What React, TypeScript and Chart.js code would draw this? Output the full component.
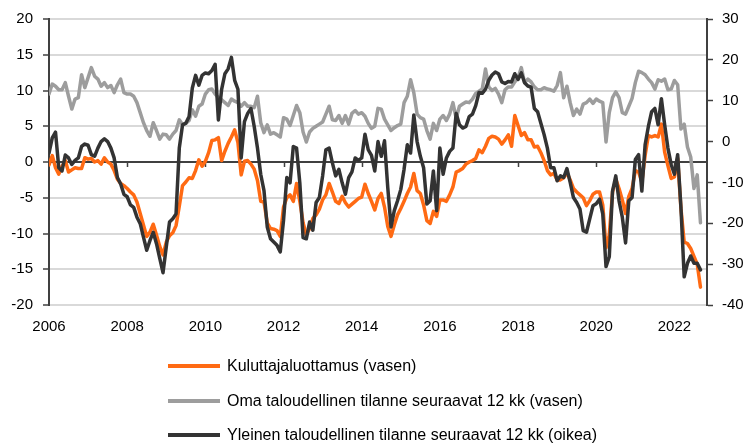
import React, { useEffect, useRef } from 'react';
import { Chart, registerables } from 'chart.js';

Chart.register(...registerables);

// Monthly data, Jan 2006 (index 0) ... Sep 2022 (index 200)
const startYear = 2006;
const yearLabels = [2006, 2008, 2010, 2012, 2014, 2016, 2018, 2020, 2022];
const leftTicks = [-20, -15, -10, -5, 0, 5, 10, 15, 20];
const rightTicks = [-40, -30, -20, -10, 0, 10, 20, 30];

const seriesNames = [
  'Kuluttajaluottamus (vasen)',
  'Oma taloudellinen tilanne seuraavat 12 kk (vasen)',
  'Yleinen taloudellinen tilanne seuraavat 12 kk (oikea)',
];
const seriesColors = ['#ff6a13', '#9d9d9d', '#333333'];

const kuluttajaluottamus = [
  -0.4, 0.9, -0.8, -1.7, -0.6, 0.2, -1.4, -1.1, -0.8, -0.9, -0.9, 0.6,
  0.4, 0.5, 0.0, 0.2, -0.3, 0.6, 0.0, -0.3, -1.2, -2.4, -3.0, -3.3,
  -3.7, -4.2, -4.6, -5.6, -7.2, -8.8, -10.4, -9.8, -8.7, -10.2, -11.8, -13.0,
  -11.2, -10.3, -9.9, -8.9, -6.2, -3.3, -2.8, -2.2, -2.3, -1.2, 0.3, -0.6,
  0.1, 1.3, 3.0, 3.1, 3.4, 0.2, 1.5, 2.6, 3.5, 4.5, 2.7, -1.8,
  0.1, 0.2, -0.3, -1.0, -2.6, -5.5, -5.6, -8.5, -9.3, -9.4, -9.6, -10.4,
  -6.3, -5.0, -4.6, -5.5, -3.0, -5.5, -8.5, -10.2, -9.3, -7.9, -7.4, -6.6,
  -5.3, -4.6, -3.0, -4.2, -5.5, -5.8, -4.8, -5.7, -6.3, -5.9, -5.5, -5.1,
  -4.9, -3.1, -4.4, -5.5, -6.7, -5.1, -4.4, -6.3, -9.0, -10.4, -8.8, -7.4,
  -6.5, -5.5, -4.4, -3.5, -1.6, -4.0, -4.4, -6.0, -8.2, -8.6, -6.9, -7.6,
  -5.3, -5.3, -5.5, -4.6, -3.5, -1.4, -1.2, -0.9, -0.3, 0.0, 0.2, 0.5,
  1.7, 1.3, 2.2, 3.3, 3.6, 3.5, 3.2, 2.5, 3.1, 3.8, 2.2, 6.5,
  5.1, 3.7, 4.1, 3.1, 3.1, 2.1, 2.2, 1.3, 0.2, -1.2, -1.8, -1.6,
  -2.5, -2.5, -2.2, -1.5, -2.5, -3.7, -4.2, -4.6, -5.0, -6.1, -5.4, -4.5,
  -4.2, -4.2, -6.0, -12.0, -10.2, -4.2, -2.4, -3.7, -5.3, -7.2, -4.8, -3.7,
  -1.2, -1.4, -2.8, 0.9, 3.7, 3.5, 3.7, 3.5, 5.3, 1.4, -0.5, -2.3,
  -2.1, 0.5, -6.5, -11.2, -11.4, -12.1, -13.2, -14.3, -17.5,
];

const omaTalous = [
  9.5, 10.9, 10.6, 10.1, 10.1, 11.1, 9.2, 7.4, 8.8, 9.0, 12.2, 10.4,
  11.8, 13.2, 12.0, 11.6, 10.6, 11.1, 10.4, 10.7, 9.7, 10.8, 11.6, 9.7,
  9.5, 9.5, 9.2, 8.3, 6.9, 5.5, 4.4, 3.6, 5.5, 4.4, 3.2, 3.9,
  3.8, 3.2, 3.9, 4.4, 5.9, 5.2, 5.4, 5.8, 7.3, 6.4, 7.8, 8.1,
  9.5, 10.1, 10.2, 9.5, 9.0, 8.7, 8.3, 7.9, 8.8, 8.5, 8.3, 7.8,
  8.3, 7.8, 7.8, 7.6, 9.2, 5.5, 4.1, 5.2, 3.9, 4.1, 3.8, 3.5,
  6.2, 6.0, 5.1, 6.5, 7.9, 6.9, 4.2, 2.8, 4.2, 4.7, 5.0, 5.3,
  5.6, 6.7, 7.8, 5.9, 5.8, 6.5, 5.4, 6.5, 5.3, 6.8, 7.2, 6.7,
  6.9, 6.4, 5.4, 4.7, 5.0, 7.5, 7.4, 6.0, 5.2, 4.4, 4.8, 5.1,
  5.3, 8.3, 9.2, 11.5, 9.7, 6.7, 6.2, 6.0, 4.4, 3.2, 5.4, 4.4,
  6.0, 6.5, 5.8, 6.7, 8.3, 6.1, 7.8, 8.1, 8.4, 8.3, 8.8, 9.6,
  9.9, 10.2, 13.0, 10.5, 10.0, 10.3, 9.5, 8.3, 10.1, 10.5, 10.5, 11.2,
  11.8, 13.2, 11.1, 11.6, 11.2, 10.5, 10.1, 10.1, 10.4, 10.2, 10.1, 9.9,
  10.7, 12.5, 9.0, 10.6, 8.3, 6.5, 7.4, 6.7, 8.1, 8.3, 8.8, 8.2,
  8.8, 8.5, 8.3, 2.8, 6.9, 9.0, 9.8, 9.0, 6.9, 6.7, 7.8, 8.9,
  11.1, 12.7, 12.5, 12.2, 11.6, 11.1, 10.2, 11.5, 11.3, 11.6, 10.1, 10.2,
  11.4, 10.8, 4.6, 5.3, 2.1, 0.7, -3.7, -1.8, -8.5,
];

const yleinenTalous = [
  -2.8, 0.9, 2.3, -6.4, -7.2, -3.3, -4.0, -5.6, -4.6, -4.0, -1.2, -0.6,
  -0.9, -3.2, -3.6, -1.6, 0.0, 0.7, 0.0, -1.6, -4.0, -8.8, -10.4, -12.9,
  -13.5, -15.5, -16.1, -18.5, -20.1, -23.4, -26.6, -24.2, -22.2, -25.0, -28.6, -32.1,
  -25.8, -19.7, -18.9, -17.7, -1.6, 4.1, 4.5, 6.1, 13.1, 16.2, 13.8, 16.2,
  16.8, 16.6, 17.4, 18.9, 5.3, 12.8, 16.6, 17.8, 20.6, 15.0, 12.8, -4.0,
  4.9, 6.9, 8.1, 3.7, -1.6, -8.0, -12.0, -20.9, -23.8, -24.6, -25.4, -27.0,
  -19.3, -8.8, -10.1, -1.2, -1.6, -10.1, -23.5, -23.8, -19.7, -21.7, -14.9, -13.7,
  -8.4, -2.0, -1.6, -5.2, -8.4, -6.8, -10.1, -12.9, -8.8, -7.4, -4.0, -4.6,
  -4.0, 1.8, -2.0, -3.4, -7.2, 0.0, -3.6, 0.2, -11.3, -20.9, -16.9, -14.5,
  -11.7, -6.8, -0.8, -2.8, 6.5, 0.0, -3.6, -6.4, -15.3, -14.5, -7.2, -16.9,
  -1.6, -8.0, -4.0, -2.4, -1.6, 6.9, 4.1, 3.3, 3.7, 6.1, 6.7, 8.8,
  12.0, 11.8, 12.8, 15.0, 16.3, 17.0, 16.6, 14.6, 14.2, 14.7, 14.6, 16.6,
  15.2, 16.8, 14.4, 13.6, 13.3, 8.1, 7.3, 4.5, 1.7, -1.6, -6.4, -6.4,
  -9.6, -8.4, -8.8, -6.6, -10.0, -13.7, -14.9, -16.5, -21.8, -22.2, -18.9, -15.7,
  -15.2, -14.1, -17.7, -30.6, -28.2, -12.1, -8.4, -14.5, -18.5, -24.8, -14.5, -13.7,
  -4.4, -3.2, -12.1, -0.8, 3.7, 7.3, 8.1, 4.1, 10.5, 4.1, -1.6, -5.6,
  -8.0, -3.2, -16.1, -33.1, -29.8, -28.0, -29.8, -29.8, -31.4,
];

const FONT = "'Liberation Sans', Arial, sans-serif";
const AXIS_COLOR = '#404040';
const GRID_COLOR = '#d9d9d9';

const monthOfYear = (yr: number) => (yr - startYear) * 12;
const toPoints = (arr: number[]) => arr.map((v, i) => ({ x: i, y: v }));

const zeroAxisTicks = {
  id: 'zeroAxisTicks',
  beforeDatasetsDraw(chart: any) {
    const xs = chart.scales.x;
    const ys = chart.scales.y;
    const y0 = ys.getPixelForValue(0);
    const ctx = chart.ctx;
    ctx.save();
    ctx.strokeStyle = AXIS_COLOR;
    ctx.lineWidth = 1.5;
    yearLabels.slice(1).forEach((yr) => {
      const px = Math.round(xs.getPixelForValue(monthOfYear(yr))) + 0.5;
      ctx.beginPath();
      ctx.moveTo(px, y0);
      ctx.lineTo(px, y0 + 5);
      ctx.stroke();
    });
    ctx.restore();
  },
};

export default function App() {
  const canvasRef = useRef<HTMLCanvasElement | null>(null);

  useEffect(() => {
    if (!canvasRef.current) return;
    const lineStyle = {
      pointRadius: 0,
      tension: 0,
      borderWidth: 3.5,
      borderJoinStyle: 'round' as const,
      borderCapStyle: 'round' as const,
      fill: false,
    };
    const chart = new Chart(canvasRef.current, {
      type: 'line',
      data: {
        datasets: [
          {
            label: seriesNames[0],
            data: toPoints(kuluttajaluottamus),
            borderColor: seriesColors[0],
            backgroundColor: seriesColors[0],
            yAxisID: 'y',
            order: 1,
            ...lineStyle,
          },
          {
            label: seriesNames[1],
            data: toPoints(omaTalous),
            borderColor: seriesColors[1],
            backgroundColor: seriesColors[1],
            yAxisID: 'y',
            order: 2,
            ...lineStyle,
          },
          {
            label: seriesNames[2],
            data: toPoints(yleinenTalous),
            borderColor: seriesColors[2],
            backgroundColor: seriesColors[2],
            yAxisID: 'y1',
            order: 0,
            ...lineStyle,
          },
        ],
      },
      options: {
        responsive: false,
        animation: false,
        devicePixelRatio: 1,
        layout: { padding: { top: 16, bottom: 109, left: 0, right: 0 } },
        plugins: { legend: { display: false }, tooltip: { enabled: false } },
        scales: {
          x: {
            type: 'linear',
            min: 0,
            max: 202,
            grid: { display: false },
            border: { display: false },
            afterBuildTicks: (scale: any) => {
              scale.ticks = yearLabels.map((yr) => ({ value: monthOfYear(yr) }));
            },
            afterFit: (scale: any) => {
              scale.height = 30;
            },
            ticks: {
              autoSkip: false,
              maxRotation: 0,
              padding: 5,
              color: '#000',
              font: { family: FONT, size: 15 },
              callback: (v: any) => String(startYear + Number(v) / 12),
            },
          },
          y: {
            type: 'linear',
            position: 'left',
            min: -20,
            max: 20,
            afterBuildTicks: (scale: any) => {
              scale.ticks = leftTicks.map((v) => ({ value: v }));
            },
            afterFit: (scale: any) => {
              scale.width = 49;
            },
            border: { display: true, color: AXIS_COLOR, width: 2 },
            grid: {
              color: (c: any) => (c.tick && c.tick.value === 0 ? AXIS_COLOR : GRID_COLOR),
              lineWidth: 2,
              drawTicks: true,
              tickLength: 6,
              tickColor: AXIS_COLOR,
              tickWidth: 1.5,
            },
            ticks: {
              padding: 10,
              color: '#000',
              font: { family: FONT, size: 15 },
            },
          },
          y1: {
            type: 'linear',
            position: 'right',
            min: -40,
            max: 30,
            afterBuildTicks: (scale: any) => {
              scale.ticks = rightTicks.map((v) => ({ value: v }));
            },
            afterFit: (scale: any) => {
              scale.width = 41;
            },
            border: { display: true, color: AXIS_COLOR, width: 2 },
            grid: {
              display: true,
              drawOnChartArea: false,
              drawTicks: true,
              tickLength: 6,
              tickColor: AXIS_COLOR,
              tickWidth: 1.5,
            },
            ticks: {
              padding: 9,
              color: '#000',
              font: { family: FONT, size: 15 },
            },
          },
        },
      },
      plugins: [zeroAxisTicks],
    } as any);
    return () => chart.destroy();
  }, []);

  const legendRows = [366, 401, 435];

  return (
    <div
      style={{
        position: 'fixed',
        left: 0,
        top: 0,
        width: 748,
        height: 444,
        background: '#fff',
        overflow: 'hidden',
      }}
    >
      <canvas ref={canvasRef} width={748} height={444} style={{ display: 'block' }} />
      {seriesNames.map((name, i) => (
        <div
          key={name}
          style={{
            position: 'absolute',
            left: 168,
            top: legendRows[i] - 10,
            height: 20,
            display: 'flex',
            alignItems: 'center',
            whiteSpace: 'nowrap',
            fontFamily: FONT,
            fontSize: 16,
            color: '#000',
          }}
        >
          <span
            style={{
              display: 'inline-block',
              width: 52,
              height: 4,
              background: seriesColors[i],
              marginRight: 7,
            }}
          />
          <span>{name}</span>
        </div>
      ))}
    </div>
  );
}
